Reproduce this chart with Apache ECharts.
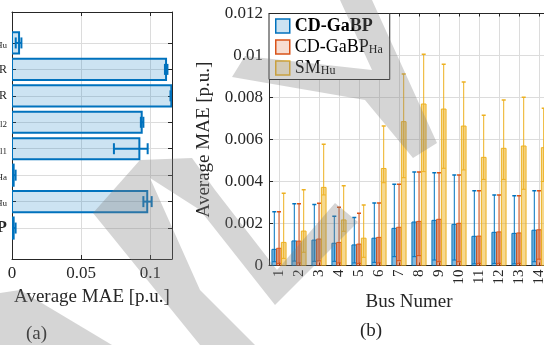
<!DOCTYPE html>
<html>
<head>
<meta charset="utf-8">
<script src="https://cdn.jsdelivr.net/npm/echarts@6/dist/echarts.min.js"></script>
<style>
  html, body { margin: 0; padding: 0; background: #fff; }
  #chart { width: 544px; height: 345px; }
</style>
</head>
<body>
<div id="chart"></div>
<script>
// panel (a): methods, top to bottom (only the tails are visible in the crop)
const methodNames = ['CD-GaBP_Hu', 'DSE-LR', 'DSE-NR', 'GaBP_l2', 'GaBP_l1', 'CD-GaBP_Ha', 'SM_Hu', 'CD-GaBP'];
const methodMean = [0.0051, 0.1114, 0.1152, 0.0938, 0.0921, 0.0012, 0.0978, 0.0012];
const methodLow  = [0.0027, 0.1106, 0.1146, 0.0932, 0.0737, 0.0006, 0.0950, 0.0006];
const methodHigh = [0.0068, 0.1124, 0.1160, 0.0950, 0.0981, 0.0026, 0.1010, 0.0026];
const maeTicksA = [0, 0.05, 0.1];

// panel (b): per bus
const buses = [1, 2, 3, 4, 5, 6, 7, 8, 9, 10, 11, 12, 13, 14];
const gabpMean = [0.00077, 0.00117, 0.00121, 0.00106, 0.00098, 0.00130, 0.00177, 0.00207, 0.00215, 0.00196, 0.00139, 0.00158, 0.00153, 0.00168];
const gabpLow  = [0.00018, 0.00021, 0.00020, 0.00020, 0.00012, 0.00015, 0.00042, 0.00042, 0.00026, 0.00026, 0.00008, 0.00010, 0.00008, 0.00018];
const gabpHigh = [0.00256, 0.00294, 0.00291, 0.00234, 0.00228, 0.00298, 0.00387, 0.00445, 0.00442, 0.00431, 0.00356, 0.00336, 0.00332, 0.00356];
const haMean = [0.00082, 0.00116, 0.00126, 0.00110, 0.00102, 0.00134, 0.00182, 0.00210, 0.00220, 0.00201, 0.00140, 0.00160, 0.00155, 0.00170];
const haLow  = [0.00010, 0.00012, 0.00022, 0.00012, 0.00010, 0.00012, 0.00023, 0.00047, 0.00018, 0.00018, 0.00010, 0.00010, 0.00010, 0.00030];
const haHigh = [0.00256, 0.00294, 0.00296, 0.00277, 0.00249, 0.00298, 0.00387, 0.00445, 0.00442, 0.00431, 0.00356, 0.00336, 0.00332, 0.00356];
const huMean = [0.00110, 0.00164, 0.00372, 0.00217, 0.00130, 0.00462, 0.00685, 0.00769, 0.00745, 0.00664, 0.00515, 0.00558, 0.00569, 0.00561];
const huLow  = [0.00034, 0.00063, 0.00336, 0.00163, 0.00039, 0.00394, 0.00418, 0.00447, 0.00463, 0.00455, 0.00410, 0.00410, 0.00363, 0.00400];
const huHigh = [0.00344, 0.00361, 0.00577, 0.00380, 0.00288, 0.00664, 0.00912, 0.01006, 0.00958, 0.00874, 0.00715, 0.00788, 0.00801, 0.00749];

const FONT = 'Liberation Serif';
const AXIS = '#262626';
const GRID = '#dcdcdc';
const BLUE = '#0072BD', ORANGE = '#D95319', YELLOW = '#EDB120';

function rgba(hex, a) {
    const n = parseInt(hex.slice(1), 16);
    return `rgba(${n >> 16},${(n >> 8) & 255},${n & 255},${a})`;
}

// "A_b" -> main text with subscript b
function richName(name, big) {
    const t = big ? 'L' : '';
    if (name === 'CD-GaBP') return `{b${t}|${name}}`;
    const [main, sub] = name.split('_');
    return sub ? `{n${t}|${main}}{s${t}|${sub}}` : `{n${t}|${main}}`;
}

const richSmall = {
    n: { fontFamily: FONT, fontSize: 12, lineHeight: 14, color: AXIS },
    s: { fontFamily: FONT, fontSize: 9, lineHeight: 5, verticalAlign: 'bottom', color: AXIS },
    b: { fontFamily: FONT, fontSize: 17, fontWeight: 'bold', lineHeight: 14, color: AXIS }
};
const richLegend = {
    nL: { fontFamily: FONT, fontSize: 18, lineHeight: 18, color: '#000' },
    sL: { fontFamily: FONT, fontSize: 12, lineHeight: 6, verticalAlign: 'bottom', color: '#000' },
    bL: { fontFamily: FONT, fontSize: 18, fontWeight: 'bold', lineHeight: 18, color: '#000' }
};

const chart = echarts.init(document.getElementById('chart'), null, { renderer: 'canvas' });

// horizontal bars with horizontal error bars (panel a)
function renderMethod(params, api) {
    const k = api.value(0), m = api.value(1), lo = api.value(2), hi = api.value(3);
    const p0 = api.coord([0, k]);
    const p1 = api.coord([m, k]);
    const h = api.size([0, 1])[1] * 0.8;
    const a = api.coord([lo, k]), b = api.coord([hi, k]);
    const cap = 11;
    const st = { stroke: BLUE, lineWidth: 2, fill: null };
    return {
        type: 'group',
        children: [
            { type: 'rect', shape: { x: p0[0], y: p0[1] - h / 2, width: p1[0] - p0[0], height: h },
              style: { fill: rgba(BLUE, 0.2), stroke: BLUE, lineWidth: 2 } },
            { type: 'line', shape: { x1: a[0], y1: a[1], x2: b[0], y2: b[1] }, style: st },
            { type: 'line', shape: { x1: a[0], y1: a[1] - cap / 2, x2: a[0], y2: a[1] + cap / 2 }, style: st },
            { type: 'line', shape: { x1: b[0], y1: b[1] - cap / 2, x2: b[0], y2: b[1] + cap / 2 }, style: st }
        ]
    };
}

// grouped vertical bars with error bars (panel b)
function busRenderer(color, shift) {
    return function (params, api) {
        const x = api.value(0), m = api.value(1), lo = api.value(2), hi = api.value(3);
        const unit = api.size([1, 0])[0];
        const w = unit * 0.235;
        const base = api.coord([x, 0]);
        const top = api.coord([x, m]);
        const cx = base[0] + shift * unit;
        const yl = api.coord([x, lo])[1], yh = api.coord([x, hi])[1];
        const st = { stroke: color, lineWidth: 1, fill: null };
        return {
            type: 'group',
            children: [
                { type: 'rect', shape: { x: cx - w / 2, y: top[1], width: w, height: base[1] - top[1] },
                  style: { fill: rgba(color, 0.5), stroke: color, lineWidth: 1 } },
                { type: 'line', shape: { x1: cx, y1: yl, x2: cx, y2: yh }, style: st },
                { type: 'line', shape: { x1: cx - 2, y1: yh, x2: cx + 2, y2: yh }, style: { stroke: color, lineWidth: 1.5 } },
                { type: 'line', shape: { x1: cx - 2, y1: yl, x2: cx + 2, y2: yl }, style: st }
            ]
        };
    };
}

const methodData = methodNames.map((n, i) => [i, methodMean[i], methodLow[i], methodHigh[i]]);
const rows = (mean, lo, hi) => buses.map((b, i) => [b, mean[i], lo[i], hi[i]]);

const tickStyle = { show: true, inside: true, length: 4, lineStyle: { color: AXIS } };
const lineStyle = { show: true, onZero: false, lineStyle: { color: AXIS, width: 1 } };
const methodIdx = methodNames.map((n, i) => i);

// watermark strokes (page decoration)
const wmFill = 'rgba(128,128,128,0.33)';
const watermark = [
    [[0, 293], [20, 290], [112, 345], [0, 345]],
    [[93, 213], [140, 160], [192, 158], [215, 190], [277, 270], [335, 203], [358, 222], [275, 305],
     [200, 210], [150, 178], [200, 290], [255, 345], [200, 345]],
    [[340, 0], [372, 0], [437, 143], [413, 158], [365, 100], [232, 77], [245, 56], [372, 70]]
].map(pts => ({ type: 'polygon', z: 100, silent: true, shape: { points: pts }, style: { fill: wmFill } }));

const option = {
    animation: false,
    backgroundColor: '#fff',
    textStyle: { fontFamily: FONT },
    grid: [
        { left: 12, top: 12, width: 160, height: 247, outerBoundsMode: 'none', containLabel: false },
        { left: 269, top: 13.5, width: 280, height: 252, outerBoundsMode: 'none', containLabel: false }
    ],
    xAxis: [
        {
            gridIndex: 0, type: 'value', min: 0, max: 0.1157,
            axisLine: lineStyle,
            axisTick: Object.assign({ customValues: maeTicksA }, tickStyle),
            splitLine: { show: true, lineStyle: { color: GRID } },
            axisLabel: { customValues: maeTicksA, margin: 6, fontFamily: FONT, fontSize: 17, color: AXIS,
                         formatter: v => String(+v.toFixed(3)) },
            name: 'Average MAE [p.u.]', nameLocation: 'middle', nameGap: 29,
            nameTextStyle: { fontFamily: FONT, fontSize: 19, color: AXIS }
        },
        {
            gridIndex: 0, type: 'value', position: 'top', min: 0, max: 0.1157,
            axisLine: lineStyle, axisTick: Object.assign({ customValues: maeTicksA }, tickStyle),
            axisLabel: { show: false }, splitLine: { show: false }
        },
        {
            gridIndex: 1, type: 'value', min: 0.5, max: 14.5,
            axisLine: lineStyle,
            axisTick: Object.assign({ customValues: buses }, tickStyle, { length: 3 }),
            splitLine: { show: true, lineStyle: { color: GRID } },
            axisLabel: { customValues: buses, rotate: 90, margin: 4, fontFamily: FONT, fontSize: 15, color: AXIS },
            name: 'Bus Numer', nameLocation: 'middle', nameGap: 26,
            nameTextStyle: { fontFamily: FONT, fontSize: 19, color: AXIS }
        },
        {
            gridIndex: 1, type: 'value', position: 'top', min: 0.5, max: 14.5,
            axisLine: lineStyle, axisTick: Object.assign({ customValues: buses }, tickStyle, { length: 3 }),
            axisLabel: { show: false }, splitLine: { show: false }
        }
    ],
    yAxis: [
        {
            gridIndex: 0, type: 'value', inverse: true, min: -1.17, max: 8.17,
            axisLine: lineStyle,
            axisTick: Object.assign({ customValues: methodIdx }, tickStyle),
            splitLine: { show: true, lineStyle: { color: GRID } },
            axisLabel: { customValues: methodIdx, margin: 5, rich: richSmall,
                         formatter: v => richName(methodNames[v], false) }
        },
        {
            gridIndex: 0, type: 'value', position: 'right', inverse: true, min: -1.17, max: 8.17,
            axisLine: lineStyle, axisTick: Object.assign({ customValues: methodIdx }, tickStyle),
            axisLabel: { show: false }, splitLine: { show: false }
        },
        {
            gridIndex: 1, type: 'value', min: 0, max: 0.012, interval: 0.002,
            axisLine: lineStyle, axisTick: tickStyle,
            splitLine: { show: true, lineStyle: { color: GRID } },
            axisLabel: { margin: 6, fontFamily: FONT, fontSize: 17, color: AXIS,
                         formatter: v => String(+v.toFixed(3)) },
            name: 'Average MAE [p.u.]', nameLocation: 'middle', nameRotate: 90, nameGap: 54,
            nameTextStyle: { fontFamily: FONT, fontSize: 19, color: AXIS }
        }
    ],
    legend: {
        left: 269, top: 13.5, orient: 'vertical',
        padding: [3.5, 7, 2.5, 6], itemGap: 3, itemWidth: 14, itemHeight: 14,
        backgroundColor: '#fff', borderColor: AXIS, borderWidth: 1, borderRadius: 0,
        selectedMode: false,
        textStyle: { rich: richLegend },
        formatter: name => richName(name, true),
        data: [
            { name: 'CD-GaBP', icon: 'rect', itemStyle: { color: rgba(BLUE, 0.2), borderColor: BLUE, borderWidth: 1.5 } },
            { name: 'CD-GaBP_Ha', icon: 'rect', itemStyle: { color: rgba(ORANGE, 0.2), borderColor: ORANGE, borderWidth: 1.5 } },
            { name: 'SM_Hu', icon: 'rect', itemStyle: { color: rgba(YELLOW, 0.2), borderColor: YELLOW, borderWidth: 1.5 } }
        ]
    },
    series: [
        { type: 'custom', name: 'methods', xAxisIndex: 0, yAxisIndex: 0, clip: true,
          renderItem: renderMethod, data: methodData, encode: { x: [1, 2, 3], y: 0 } },
        { type: 'custom', name: 'CD-GaBP', xAxisIndex: 2, yAxisIndex: 2, clip: true,
          itemStyle: { color: BLUE },
          renderItem: busRenderer(BLUE, -0.235), data: rows(gabpMean, gabpLow, gabpHigh), encode: { x: 0, y: [1, 2, 3] } },
        { type: 'custom', name: 'CD-GaBP_Ha', xAxisIndex: 2, yAxisIndex: 2, clip: true,
          itemStyle: { color: ORANGE },
          renderItem: busRenderer(ORANGE, 0), data: rows(haMean, haLow, haHigh), encode: { x: 0, y: [1, 2, 3] } },
        { type: 'custom', name: 'SM_Hu', xAxisIndex: 2, yAxisIndex: 2, clip: true,
          itemStyle: { color: YELLOW },
          renderItem: busRenderer(YELLOW, 0.235), data: rows(huMean, huLow, huHigh), encode: { x: 0, y: [1, 2, 3] } }
    ],
    graphic: [
        { type: 'text', left: 26, top: 325, style: { text: '(a)', font: `19px "${FONT}"`, fill: AXIS } },
        { type: 'text', left: 360, top: 322, style: { text: '(b)', font: `19px "${FONT}"`, fill: AXIS } }
    ].concat(watermark)
};

chart.setOption(option);
</script>
</body>
</html>
